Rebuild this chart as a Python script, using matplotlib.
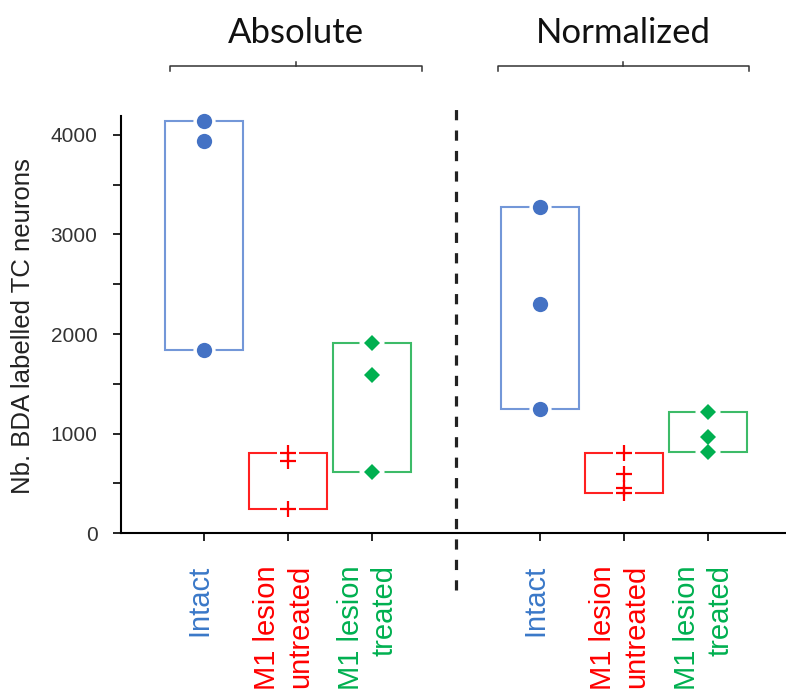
import matplotlib.pyplot as plt
from matplotlib.patches import Rectangle

# Data (number of BDA labelled TC neurons)
groups = ['Intact', 'M1 lesion\nuntreated', 'M1 lesion\ntreated']
abs_intact = [4145, 3935, 1835]
abs_untreated = [808, 725, 242]
abs_treated = [1913, 1590, 612]
norm_intact = [3273, 2298, 1243]
norm_untreated = [808, 595, 450, 400]
norm_treated = [1215, 968, 815]

positions = [1, 2, 3, 5, 6, 7]
series = [abs_intact, abs_untreated, abs_treated,
          norm_intact, norm_untreated, norm_treated]
markers = ['o', '+', 'D'] * 2
mark_col = ['#4472C4', '#FF0000', '#00B050'] * 2
box_col = ['#7397D8', '#FF2020', '#3DBB68'] * 2
label_col = ['#3A78C8', '#FF0000', '#00B050']
msize = [11, 11, 8.5] * 2

plt.rcParams['font.family'] = ['Liberation Sans', 'DejaVu Sans']
fig = plt.figure(figsize=(7.86, 6.95), dpi=100)
ax = fig.add_axes([0.154, 0.233, 0.846, 0.6])

half = 0.46
for x, vals, m, mc, bc, ms in zip(positions, series, markers, mark_col, box_col, msize):
    lo, hi = min(vals), max(vals)
    ax.add_patch(Rectangle((x - half, lo), 2 * half, hi - lo, fill=False,
                           edgecolor=bc, lw=1.5, zorder=2))
    # white halo under the markers so the box line breaks around them
    ax.plot([x] * len(vals), vals, 's' if m == '+' else m, color='white',
            ms=ms + 5, mew=0, zorder=3, clip_on=False)
    if m == '+':
        ax.plot([x] * len(vals), vals, m, color=mc, ms=ms, mew=1.6, zorder=4, clip_on=False)
    else:
        ax.plot([x] * len(vals), vals, m, color=mc, ms=ms, mew=0, zorder=4, clip_on=False)

ax.set_xlim(0.012, 7.93)
ax.set_ylim(0, 4190)
ax.spines['top'].set_visible(False)
ax.spines['right'].set_visible(False)
for s in ['left', 'bottom']:
    ax.spines[s].set_linewidth(1.5)

ax.set_yticks([0, 1000, 2000, 3000, 4000])
ax.set_yticks([500, 1500, 2500, 3500], minor=True)
ax.tick_params(axis='y', which='both', length=6, width=1.2, pad=11,
               labelsize=15, labelcolor='#333333')
ax.set_xticks(positions)
ax.set_xticklabels([])
ax.tick_params(axis='x', length=6, width=1.2)

# category labels, rotated, one set under each half
for i, x in enumerate(positions):
    ax.annotate(groups[i % 3], xy=(x - 0.05, 0), xycoords=('data', 'axes fraction'),
                xytext=(0, -23), textcoords='offset points', rotation=90,
                ha='center', va='top', multialignment='right', linespacing=1.25,
                fontsize=21, color=label_col[i % 3])

# dashed separator
ax.axvline(4, ymin=-0.137, ymax=1.02, color='#222222', lw=2.3,
           linestyle=(0, (3.2, 3.2)), clip_on=False)

# brackets and headings
xt = ax.get_xaxis_transform()
for (x0, x1), title in [((0.595, 3.595), 'Absolute'), ((4.5, 7.49), 'Normalized')]:
    xm = (x0 + x1) / 2
    ax.plot([x0, x0, x1, x1], [1.108, 1.12, 1.12, 1.108], color='#333333',
            lw=1.1, transform=xt, clip_on=False)
    ax.plot([xm, xm], [1.12, 1.13], color='#333333', lw=1.1, transform=xt, clip_on=False)
    ax.text(xm, 1.20, title, transform=xt, ha='center', va='center',
            fontsize=25, family=['Lato', 'DejaVu Sans'], color='#111111')

fig.text(0.029, 0.531, 'Nb. BDA labelled TC neurons', rotation=90,
         ha='center', va='center', fontsize=18.5, color='#222222')

fig.savefig('out.png', dpi=100)
